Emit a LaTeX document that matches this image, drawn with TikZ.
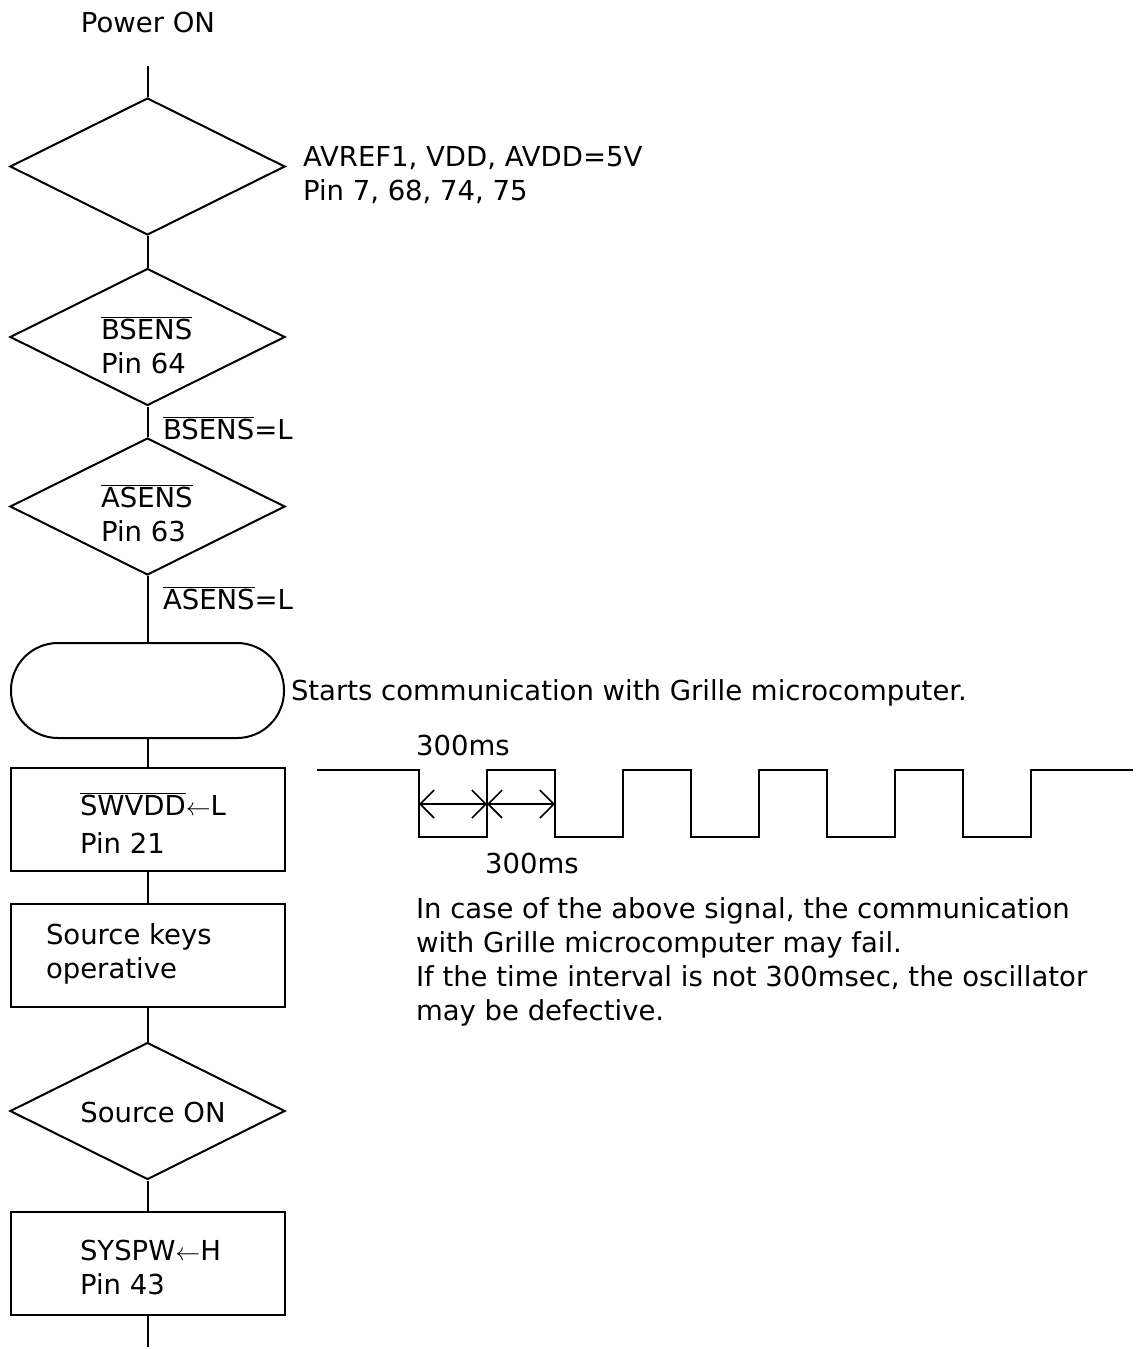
\documentclass[tikz,border=0pt]{standalone}
\usepackage{fontspec}
\setmainfont{DejaVu Sans}
\usetikzlibrary{shapes.geometric,arrows.meta}
\newcommand{\ovl}[1]{\ensuremath{\overline{\mbox{#1}}}}
\newcommand{\larr}{\ensuremath{\leftarrow}}
\begin{document}
\begin{tikzpicture}[x=1pt,y=-1pt,line width=2pt,
  dia/.style={draw,shape=diamond,minimum width=275pt,minimum height=137pt,inner sep=0pt},
  box/.style={draw,rectangle,minimum width=274pt,minimum height=103pt,inner sep=0pt},
  term/.style={draw,rectangle,rounded corners=47pt,minimum width=273pt,minimum height=95pt,inner sep=0pt},
  txt/.style={font=\fontsize{27.5}{34}\selectfont,inner sep=0pt,align=left},
  tip/.style={{Straight Barb[length=14pt,width=28pt]}-{Straight Barb[length=14pt,width=28pt]}}]
\useasboundingbox (0,0) rectangle (1139,1349);
% title
\node[txt] (pwr) at (148,22) {Power ON};
\coordinate (top) at (147.5,66);
\coordinate (bot) at (147.5,1347);
% shapes
\node[dia] (d1) at (147.5,166.5) {};
\node[dia] (d2) at (147.5,337) {};
\node[dia] (d3) at (147.5,506.5) {};
\node[term] (t1) at (147.5,690.5) {};
\node[box] (b1) at (147.5,819.5) {};
\node[box] (b2) at (147.5,955.5) {};
\node[dia] (d4) at (147.5,1111) {};
\node[box] (b3) at (147.5,1263.5) {};
% texts in shapes
\node[txt,anchor=west] (d2t) at (100,345) {\ovl{BSENS}\\Pin 64};
\node[txt,anchor=west] (d3t) at (100,513) {\ovl{ASENS}\\Pin 63};
\node[txt,anchor=west] (b1t) at (79,823) {\ovl{SWVDD}\larr L\\[4pt]Pin 21};
\node[txt,anchor=west] (b2t) at (45,954) {Source keys\\operative};
\node[txt] (d4t) at (153,1112) {Source ON};
\node[txt,anchor=west] (b3t) at (79,1267) {SYSPW\larr H\\Pin 43};
% connectors
\draw (top) -- (d1.north);
\draw (d1.south) -- (d2.north);
\draw (d2.south) -- (d3.north);
\draw (d3.south) -- (t1.north);
\draw (t1.south) -- (b1.north);
\draw (b1.south) -- (b2.north);
\draw (b2.south) -- (d4.north);
\draw (d4.south) -- (b3.north);
\draw (b3.south) -- (bot);
% labels
\node[txt,anchor=west] (l1) at (162,428) {\ovl{BSENS}=L};
\node[txt,anchor=west] (l2) at (162,598) {\ovl{ASENS}=L};
\node[txt,anchor=west] (n1) at (302,175) {AVREF1, VDD, AVDD=5V\\Pin 7, 68, 74, 75};
\node[txt,anchor=west] (n2) at (290,693) {Starts communication with Grille microcomputer.};
\node[txt] (m1) at (463,745) {300ms};
\node[txt] (m2) at (532,863) {300ms};
\node[txt,anchor=west] (n3) at (415,962) {In case of the above signal, the communication\\with Grille microcomputer may fail.\\If the time interval is not 300msec, the oscillator\\may be defective.};
% waveform
\draw (317,770) -- (419,770) -- (419,837) -- (487,837) -- (487,770) -- (555,770) -- (555,837)
  -- (623,837) -- (623,770) -- (691,770) -- (691,837) -- (759,837) -- (759,770) -- (827,770)
  -- (827,837) -- (895,837) -- (895,770) -- (963,770) -- (963,837) -- (1031,837) -- (1031,770) -- (1133,770);
\coordinate (a1) at (419,804);
\coordinate (a2) at (487,804);
\coordinate (a3) at (555,804);
\draw[tip,line width=1.6pt] (a1) -- (a2);
\draw[tip,line width=1.6pt] (a2) -- (a3);
\end{tikzpicture}
\end{document}
